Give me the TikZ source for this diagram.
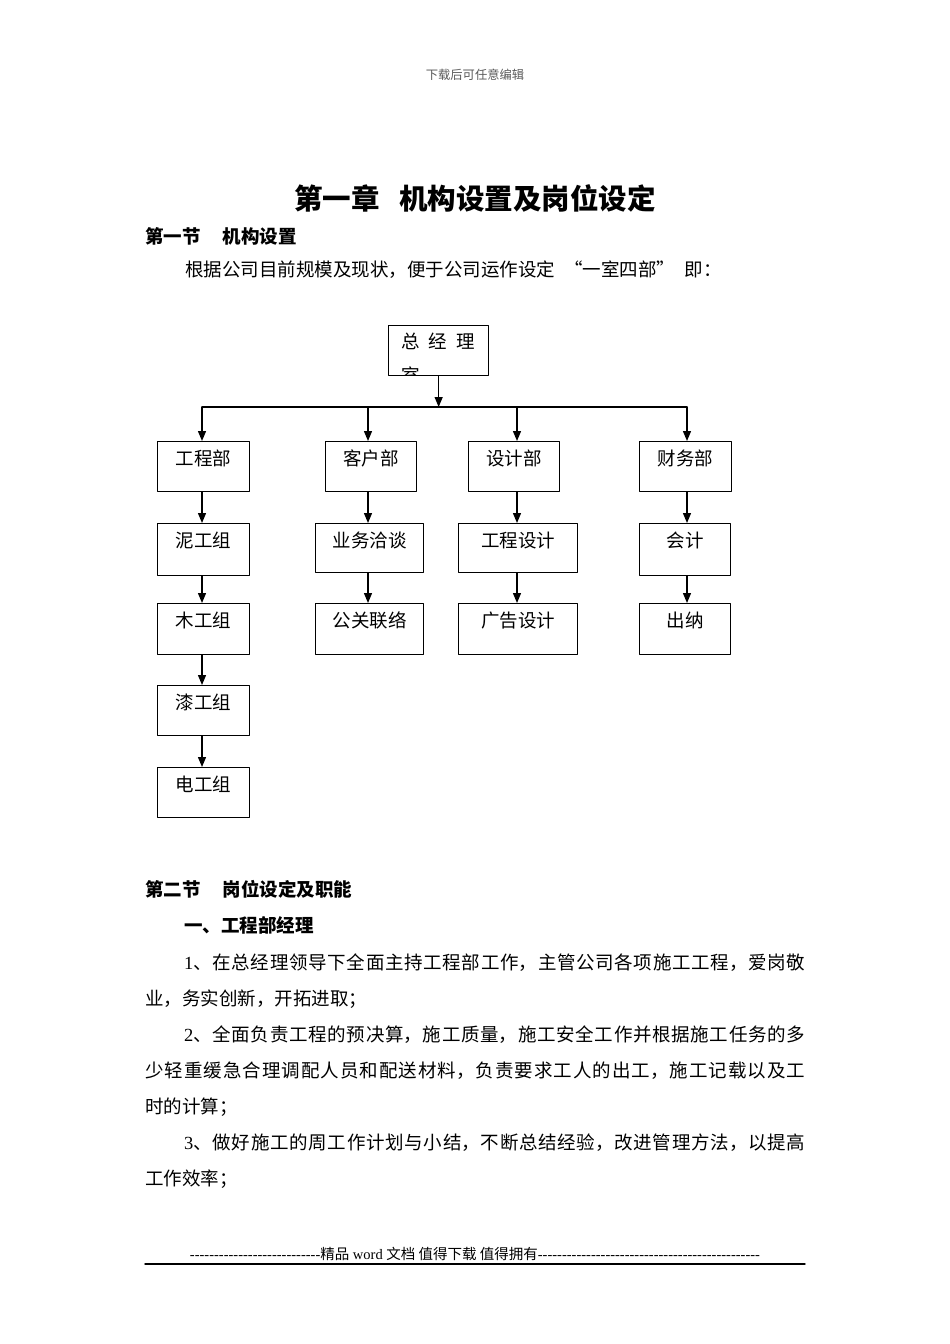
\documentclass[tikz,border=0pt]{standalone}
\usepackage{fontspec}
\setmainfont{Liberation Serif}
\newfontfamily\cjk{Noto Sans CJK SC}
\usetikzlibrary{arrows.meta}
\XeTeXlinebreaklocale "zh"
\XeTeXlinebreakskip=0pt plus 2pt minus 0.1pt
\newcommand{\fullline}[2]{\parbox[t]{#1}{\parfillskip=0pt #2}}
\newcommand{\dashrow}[1]{\foreach \i in {1,...,#1}{-\kern0pt}}

\begin{document}
\begin{tikzpicture}[x=1pt, y=-1pt, line cap=round, line join=round,
    orgbox/.style={draw, line width=1.3pt, anchor=north west, inner sep=0pt,
      text height=23.5pt, text depth=#1, font=\cjk\fontsize{18.5}{20}\selectfont},
    orgbox/.default=26.5pt,
    orgarr/.style={line width=1.3pt, -{Triangle[length=10pt,width=8pt]}},
    body/.style={anchor=base west, inner sep=0pt, font=\cjk\fontsize{18.5}{22}\selectfont},
    head/.style={body, font=\cjk\bfseries\fontsize{18.5}{22}\selectfont}]
  \useasboundingbox[fill=white] (0,0) rectangle (950,1344);

  % page head and title
  \node[inner sep=0pt, anchor=base, text=black!65, font=\cjk\fontsize{12.3}{14}\selectfont] (hdr) at (475,79.7) {下载后可任意编辑};
  \node[inner sep=0pt, anchor=base, font=\cjk\bfseries\fontsize{28.5}{32}\selectfont] (title) at (475,209.8) {第一章\hspace{20pt}机构设置及岗位设定};
  \node[head] (sec1) at (145,243) {第一节\hspace{22pt}机构设置};
  \node[body] (intro) at (185,276) {根据公司目前规模及现状，便于公司运作设定\hspace{.5em}“一室四部”\hspace{.5em}即：};

  % chart
  \node[orgbox, minimum width=100pt] (zjl) at (388,325) {};
  \begin{scope}
    \clip ([shift={(1.5,-1.5)}]zjl.south west) rectangle ([shift={(-1.5,1.5)}]zjl.north east);
    \node[body] (zjlname) at (401,348) {总\hspace{.5em}经\hspace{.5em}理};
    \node[body] (zjlrest) at (401,382) {室};
  \end{scope}
  \coordinate (bar) at (438,407);
  \coordinate (c1) at (202,407);
  \coordinate (c2) at (368,407);
  \coordinate (c3) at (517,407);
  \coordinate (c4) at (687,407);
  \draw[orgarr] (zjl.south) -- (zjl.south |- bar);
  \draw[line width=1.3pt] (c1) -- (c4);

  \node[orgbox, minimum width=92pt] (gcb) at (157,441) {工程部};
  \node[orgbox, minimum width=91pt] (khb) at (325,441) {客户部};
  \node[orgbox, minimum width=91pt] (sjb) at (468,441) {设计部};
  \node[orgbox, minimum width=92pt] (cwb) at (639,441) {财务部};

  \node[orgbox=28.5pt, minimum width=92pt] (ngz) at (157,523) {泥工组};
  \node[orgbox=25.5pt, minimum width=108pt] (ywqt) at (315,523) {业务洽谈};
  \node[orgbox=25.5pt, minimum width=119pt] (gcsj) at (458,523) {工程设计};
  \node[orgbox=28.5pt, minimum width=91pt] (kj) at (639,523) {会计};

  \node[orgbox=27.5pt, minimum width=92pt] (mgz) at (157,603) {木工组};
  \node[orgbox=27.5pt, minimum width=108pt] (gglx) at (315,603) {公关联络};
  \node[orgbox=27.5pt, minimum width=119pt] (ggsj) at (458,603) {广告设计};
  \node[orgbox=27.5pt, minimum width=91pt] (cn) at (639,603) {出纳};

  \node[orgbox, minimum width=92pt] (qgz) at (157,685) {漆工组};
  \node[orgbox, minimum width=92pt] (dgz) at (157,767) {电工组};

  \foreach \c/\n in {c1/gcb, c2/khb, c3/sjb, c4/cwb}
    \draw[orgarr] (\c) -- (\c |- \n.north);
  \foreach \a/\b/\c in {gcb/ngz/c1, ngz/mgz/c1, mgz/qgz/c1, qgz/dgz/c1, khb/ywqt/c2, ywqt/gglx/c2,
      sjb/gcsj/c3, gcsj/ggsj/c3, cwb/kj/c4, kj/cn/c4}
    \draw[orgarr] (\a.south -| \c) -- (\b.north -| \c);

  % second section
  \node[head] (sec2) at (145,896) {第二节\hspace{22pt}岗位设定及职能};
  \node[head] (sub1) at (184,932) {一、工程部经理};
  \node[body] (ln1) at (184,969) {\fullline{621pt}{{\rmfamily 1}、在总经理领导下全面主持工程部工作，主管公司各项施工工程，爱岗敬}};
  \node[body] (ln2) at (145,1005) {业，务实创新，开拓进取；};
  \node[body] (ln3) at (184,1041) {\fullline{621pt}{{\rmfamily 2}、全面负责工程的预决算，施工质量，施工安全工作并根据施工任务的多}};
  \node[body] (ln4) at (145,1077) {\fullline{660pt}{少轻重缓急合理调配人员和配送材料，负责要求工人的出工，施工记载以及工}};
  \node[body] (ln5) at (145,1113) {时的计算；};
  \node[body] (ln6) at (184,1149) {\fullline{621pt}{{\rmfamily 3}、做好施工的周工作计划与小结，不断总结经验，改进管理方法，以提高}};
  \node[body] (ln7) at (145,1185) {工作效率；};

  % page foot
  \node[inner sep=0pt, anchor=base, font=\fontsize{14.5}{16}\selectfont] (foot) at (475,1259)
    {\dashrow{27}{\cjk 精品} word {\cjk 文档 值得下载 值得拥有}\dashrow{46}};
  \coordinate (ruleL) at (145,1264);
  \coordinate (ruleR) at (805,1264);
  \draw[line width=1.4pt] (ruleL) -- (ruleR);
\end{tikzpicture}
\end{document}
